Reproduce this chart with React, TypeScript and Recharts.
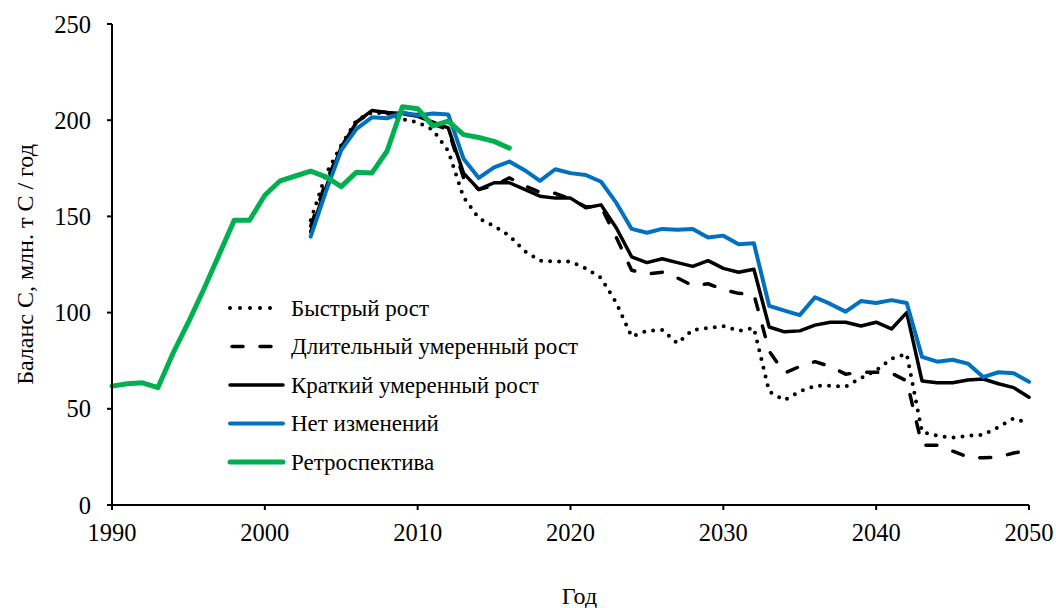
import { LineChart, Line, XAxis, YAxis, Legend, Label } from "recharts";

// years on the x axis
const years = [
  1990, 1991, 1992, 1993, 1994, 1995, 1996, 1997, 1998, 1999,
  2000, 2001, 2002, 2003, 2004, 2005, 2006, 2007, 2008, 2009,
  2010, 2011, 2012, 2013, 2014, 2015, 2016, 2017, 2018, 2019,
  2020, 2021, 2022, 2023, 2024, 2025, 2026, 2027, 2028, 2029,
  2030, 2031, 2032, 2033, 2034, 2035, 2036, 2037, 2038, 2039,
  2040, 2041, 2042, 2043, 2044, 2045, 2046, 2047, 2048, 2049, 2050,
];

// retrospective: 1990..2016
const retroStart = 1990;
const retro = [
  61.8, 63, 63.5, 61, 79, 95, 112, 130, 148, 148,
  161, 168.5, 171, 173.5, 170.5, 165.5, 173, 172.5, 184, 207,
  206, 197, 199.5, 192.5, 191, 189, 185.5,
];

// scenarios: 2003..2050
const scenStart = 2003;
const fastGrowth = [
  148, 172, 187, 200, 204, 203.5, 200.5, 199, 195, 184,
  160, 149, 145, 140, 132, 127, 126.5, 126.5, 123, 118,
  105, 87.5, 90.5, 91, 84, 91, 92, 93, 90.5, 92,
  59, 54.5, 59, 62, 62, 61.5, 66, 70, 76, 78.5,
  38, 36, 35, 36, 36.5, 40.5, 45, 42.5,
];
const longModerate = [
  145, 168, 186, 199, 204.5, 204, 203, 203, 198, 195,
  170, 164, 166, 170, 166, 162.5, 162, 159, 155, 155,
  139, 122, 120, 121, 118, 114, 115, 112, 110, 109.5,
  80, 68.5, 72, 74.5, 72, 68, 69, 69, 68.5, 64.5,
  31, 31, 28, 25, 24.5, 25, 27, 28.5,
];
const shortModerate = [
  142, 165, 186, 199, 205, 204, 203.5, 202, 199, 196,
  172.5, 164, 167.5, 167.5, 164, 160.5, 159.5, 159.5, 154.5, 156,
  144, 129, 126, 128, 126, 124, 127, 123, 121, 122.5,
  92.5, 90, 90.5, 93.5, 95, 95, 93, 95, 91.5, 100,
  64.5, 63.5, 63.5, 65, 65.5, 63, 61, 56,
];
const noChange = [
  139.5, 163, 184.5, 195.5, 201.5, 201, 204, 202.5, 203.5, 203,
  180, 170, 175.5, 178.5, 174, 168.5, 174.5, 172.5, 171.5, 168,
  157, 143.5, 141.5, 143.5, 143, 143.5, 139, 140, 135.5, 136,
  103.5, 101, 98.7, 108, 104.5, 100.5, 106, 105, 106.5, 105,
  77, 74.5, 75.5, 73.5, 66.5, 69, 68.5, 64,
];

const xTicks = [1990, 2000, 2010, 2020, 2030, 2040, 2050];
const yTicks = [0, 50, 100, 150, 200, 250];

const data = years.map((year) => ({
  year,
  retro: retro[year - retroStart] ?? null,
  fast: year >= scenStart ? fastGrowth[year - scenStart] ?? null : null,
  long: year >= scenStart ? longModerate[year - scenStart] ?? null : null,
  short: year >= scenStart ? shortModerate[year - scenStart] ?? null : null,
  none: year >= scenStart ? noChange[year - scenStart] ?? null : null,
}));

const FONT = "'Liberation Serif', 'Times New Roman', serif";

const styles: Record<string, { stroke: string; width: number; dash?: string }> = {
  fast: { stroke: "#000", width: 4, dash: "0 9" },
  long: { stroke: "#000", width: 3.5, dash: "11 17" },
  short: { stroke: "#000", width: 3.5 },
  none: { stroke: "#0070C0", width: 4 },
  retro: { stroke: "#00B050", width: 5 },
};

const LegendContent = ({ payload }: any) => (
  <svg width={420} height={200} style={{ display: "block" }}>
    {(payload || []).map((entry: any, i: number) => {
      const s = styles[entry.dataKey];
      const y = 18 + i * 38.5;
      return (
        <g key={entry.dataKey}>
          <line
            x1={4}
            x2={s.dash === "0 9" ? 54 : 57}
            y1={y}
            y2={y}
            stroke={s.stroke}
            strokeWidth={s.width}
            strokeDasharray={s.dash === "0 9" ? "0 10" : s.dash}
            strokeDashoffset={s.dash === "11 17" ? -2 : 0}
            strokeLinecap="round"
          />
          <text x={65} y={y} dominantBaseline="central" fontFamily={FONT} fontSize={23} fill="#000">
            {entry.value}
          </text>
        </g>
      );
    })}
  </svg>
);

const tickStyle = { fill: "#000", fontSize: 24.5, fontFamily: FONT };

export default function App() {
  return (
    <div style={{ position: "absolute", left: 0, top: 0, width: 1056, height: 608, background: "#fff" }}>
      <LineChart width={1056} height={608} data={data} margin={{ top: 24, right: 27, left: 52, bottom: 63 }}>
        <XAxis
          dataKey="year"
          type="number"
          domain={[1990, 2050]}
          ticks={xTicks}
          tick={tickStyle}
          tickSize={5}
          tickMargin={14}
          height={40}
          axisLine={{ stroke: "#000", strokeWidth: 2 }}
          tickLine={{ stroke: "#000", strokeWidth: 2 }}
        >
          <Label
            content={({ viewBox }: any) => (
              <text
                x={viewBox.x + viewBox.width / 2 + 9}
                y={604}
                textAnchor="middle"
                fontFamily={FONT}
                fontSize={24}
                fill="#000"
              >
                Год
              </text>
            )}
          />
        </XAxis>
        <YAxis
          domain={[0, 250]}
          ticks={yTicks}
          tick={tickStyle}
          tickSize={5}
          tickMargin={16}
          width={60}
          axisLine={{ stroke: "#000", strokeWidth: 2 }}
          tickLine={{ stroke: "#000", strokeWidth: 2 }}
        >
          <Label
            content={({ viewBox }: any) => {
              const cy = viewBox.y + viewBox.height / 2;
              return (
                <text
                  x={33}
                  y={cy}
                  transform={`rotate(-90 33 ${cy})`}
                  textAnchor="middle"
                  fontFamily={FONT}
                  fontSize={24}
                  fill="#000"
                >
                  Баланс C, млн. т C / год
                </text>
              );
            }}
          />
        </YAxis>
        <Legend
          layout="vertical"
          align="center"
          verticalAlign="middle"
          content={<LegendContent />}
          wrapperStyle={{ left: 226, top: 290, width: 420, height: 200 }}
        />
        {(["fast", "long", "short", "none", "retro"] as const).map((key) => {
          const s = styles[key];
          const names: Record<string, string> = {
            fast: "Быстрый рост",
            long: "Длительный умеренный рост",
            short: "Краткий умеренный рост",
            none: "Нет изменений",
            retro: "Ретроспектива",
          };
          return (
            <Line
              key={key}
              dataKey={key}
              name={names[key]}
              type="linear"
              stroke={s.stroke}
              strokeWidth={s.width}
              strokeDasharray={s.dash}
              strokeLinecap="round"
              strokeLinejoin="round"
              dot={false}
              activeDot={false}
              connectNulls={false}
              isAnimationActive={false}
            />
          );
        })}
      </LineChart>
    </div>
  );
}
